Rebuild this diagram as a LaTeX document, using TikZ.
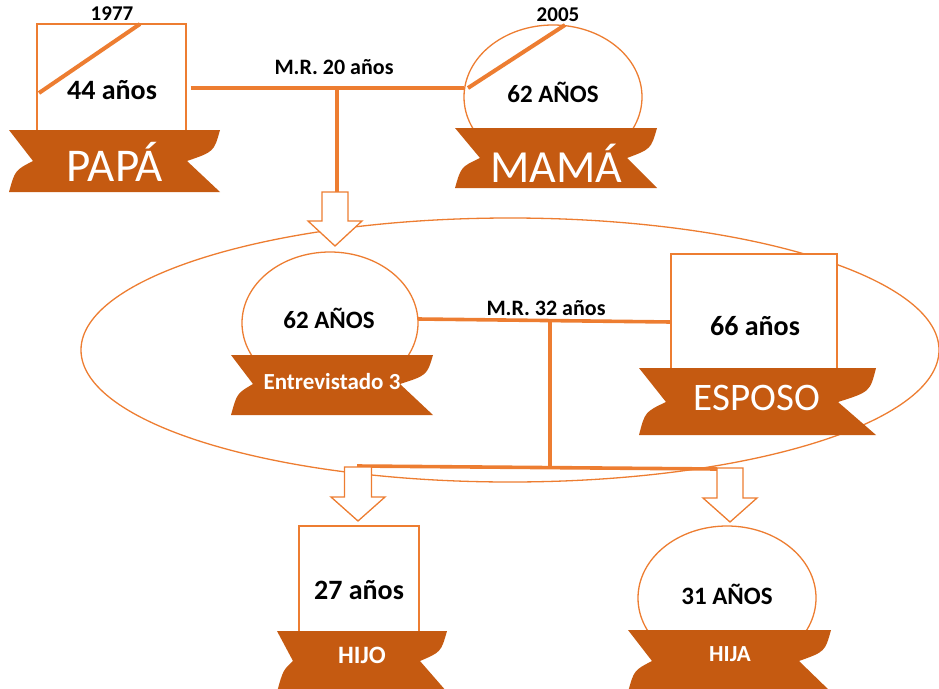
\documentclass[tikz,border=0pt]{standalone}
\usepackage{fontspec}
\setmainfont{Carlito}
\usetikzlibrary{shapes.geometric}
\definecolor{lineor}{HTML}{ED7D31}
\definecolor{ribor}{HTML}{C55A11}
\newcommand\myribbon[7]{% xl xnl xr xnr yt yb yn
  \fill[ribor] (#1,#5) -- (#3,#5) .. controls ({#3-6},{#5+0.7*(#7-#5)}) .. (#4,#7) -- (#3,#6) -- (#1,#6)
    .. controls ({#1+6},{#6-0.7*(#6-#7)}) .. (#2,#7) -- cycle;}
\newcommand\myblockarrow[6]{% x ytop yhead ytip halfshaft halfhead
  \filldraw[thinl, fill=white] ({#1-#5},#2) -- ({#1+#5},#2) -- ({#1+#5},#3) -- ({#1+#6},#3) -- (#1,#4)
    -- ({#1-#6},#3) -- ({#1-#5},#3) -- cycle;}
\begin{document}
\begin{tikzpicture}[x=1pt,y=-1pt,
  thinl/.style={draw=lineor, line width=1.3pt},
  conn/.style={draw=lineor, line width=3.6pt},
  slash/.style={draw=lineor, line width=4pt},
  boxshape/.style={thinl, fill=white, rectangle, inner sep=0pt, outer sep=0pt},
  circshape/.style={thinl, fill=white, ellipse, inner sep=0pt, outer sep=0pt},
  dark/.style={inner sep=0pt, text=black, font=\bfseries\fontsize{#1}{#1}\selectfont},
  whiteReg/.style={inner sep=0pt, text=white, font=\fontsize{#1}{#1}\selectfont},
  whiteBold/.style={inner sep=0pt, text=white, font=\bfseries\fontsize{#1}{#1}\selectfont}
]
\useasboundingbox (0,0) rectangle (939,688);
\clip (0,0) rectangle (939,688);

% big grouping ellipse
\node[circshape, fill=none, minimum width=858, minimum height=264] (group) at (510,350) {};

% shapes
\node[boxshape, minimum width=149, minimum height=108] (papa) at (111.5,78) {};
\node[circshape, minimum width=178, minimum height=144] (mama) at (553,97) {};
\node[circshape, minimum width=176, minimum height=142] (entrev) at (330,323) {};
\node[boxshape, minimum width=166, minimum height=116] (esposo) at (754,312) {};
\node[boxshape, minimum width=120, minimum height=107] (hijo) at (359,579.5) {};
\node[circshape, minimum width=178, minimum height=144] (hija) at (727,598) {};

% junction coordinates
\coordinate (j1) at (337,88);
\coordinate (a1) at (337,192);
\coordinate (j2) at (550,320.5);
\coordinate (j3) at (550,467.5);
\coordinate (b1) at (357,466);
\coordinate (b2) at (717,469);

% connectors
\draw[conn] ([xshift=4.5pt]papa.east |- j1) -- (mama.west |- j1);
\draw[conn] (j1) -- (a1);
\draw[conn] (418,319) -- (esposo.west |- 0,322);
\draw[conn] (j2) -- (j3);
\draw[conn] (b1) -- (b2);

% block arrows
\myblockarrow{335}{192}{221}{246}{13}{27}
\myblockarrow{358}{467}{497}{521}{13.5}{27}
\myblockarrow{730}{468}{498}{522}{13}{27}

% deceased slashes
\draw[slash] (39,93) -- (140,24);
\draw[slash] (468,88) -- (565,25);

% ribbons
\myribbon{9}{33}{220}{187}{130}{192}{161}
\myribbon{455}{480}{657}{627}{128}{188}{158}
\myribbon{231}{253}{433}{400}{355}{415}{384}
\myribbon{639}{666}{876}{838}{368}{435}{402}
\myribbon{277}{293}{447}{420}{631}{692}{661}
\myribbon{628}{652}{831}{799}{630}{692}{661}

% texts
\node[dark=21] (t1977) at (112,14) {1977};
\node[dark=28] (tpapa) at (112,90) {44 años};
\node[whiteReg=47] (npapa) at (115,162) {PAPÁ};
\node[dark=22] (mr1) at (334,67) {M.R. 20 años};
\node[dark=21] (t2005) at (558,15) {2005};
\node[dark=25] (tmama) at (553,92) {62 AÑOS};
\node[whiteReg=46] (nmama) at (556,163) {MAMÁ};
\node[dark=25] (tentrev) at (329,318) {62 AÑOS};
\node[whiteBold=23] (nentrev) at (332,382) {Entrevistado 3};
\node[dark=22] (mr2) at (546,308) {M.R. 32 años};
\node[dark=28] (tesposo) at (755,326) {66 años};
\node[whiteReg=39] (nesposo) at (757,398) {ESPOSO};
\node[dark=28] (thijo) at (359,590) {27 años};
\node[whiteBold=25] (nhijo) at (362,655) {HIJO};
\node[dark=25] (thija) at (727,594) {31 AÑOS};
\node[whiteBold=23] (nhija) at (730,654) {HIJA};
\end{tikzpicture}
\end{document}
